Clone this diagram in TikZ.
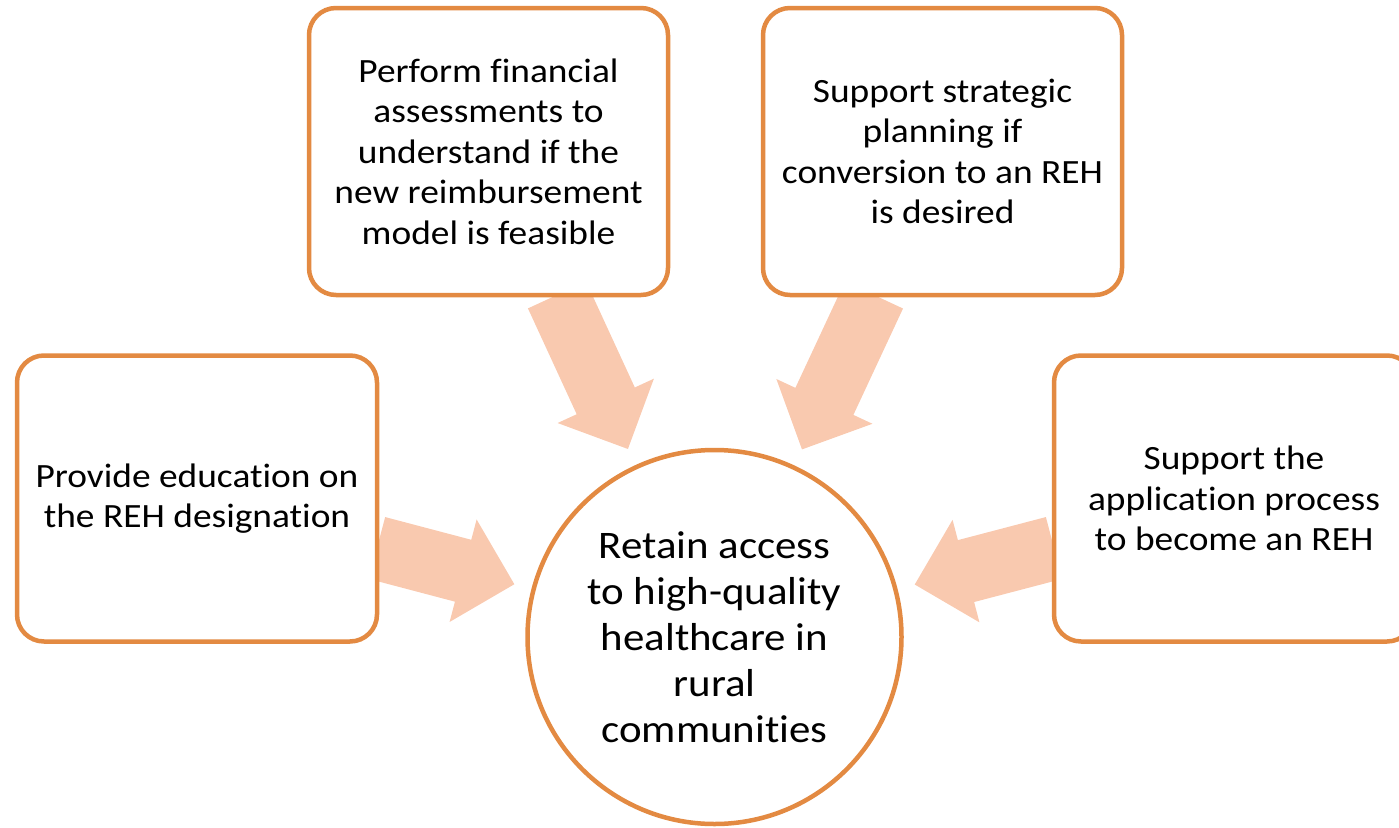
\documentclass[tikz,border=0pt]{standalone}
\usepackage{fontspec}
\setmainfont{Carlito}
\newfontfamily\widefont[FakeStretch=1.1, Ligatures=NoCommon]{Carlito}
\usetikzlibrary{calc,positioning,backgrounds}
\definecolor{edge}{HTML}{E38A42}
\definecolor{arrowfill}{HTML}{F9C9AF}
% block arrow from #1 to #2
\newcommand{\blockarrow}[2]{%
  \coordinate (hb) at ($(#2)!53pt!(#1)$);
  \fill[arrowfill] ($(#1)!32pt!90:(#2)$) -- ($(hb)!32pt!90:(#2)$) -- ($(hb)!53pt!90:(#2)$) -- (#2)
    -- ($(hb)!53pt!-90:(#2)$) -- ($(hb)!32pt!-90:(#2)$) -- ($(#1)!32pt!-90:(#2)$) -- cycle;}

\begin{document}
\begin{tikzpicture}[
    x=1pt, y=-1pt,
    box/.style={draw=edge, line width=4.5pt, rounded corners=27pt, fill=white, minimum width=359pt, minimum height=287pt,
        outer sep=0pt, inner sep=0pt, align=center, font=\widefont\fontsize{34}{40.5}\selectfont},
    hub/.style={circle, draw=edge, line width=4.5pt, fill=white, minimum size=374pt, outer sep=0pt, inner sep=0pt,
        align=center, font=\widefont\fontsize{39}{46}\selectfont}
]
    \clip (0,0) rectangle (1399,827);
    \node[hub] (goal) at (714.5,637) {Retain access\\to high-quality\\healthcare in\\rural\\communities};
    \node[box] (fin) at (488.5,151.5) {Perform financial\\assessments to\\understand if the\\new reimbursement\\model is feasible};
    \node[box, right=95pt of fin] (plan) {Support strategic\\planning if\\conversion to an REH\\is desired};
    \node[box, minimum width=360pt, minimum height=286pt] (edu) at (197,498.5) {Provide education on\\the REH designation};
    \node[box, minimum width=360pt, minimum height=286pt, right=677pt of edu] (apply) {Support the\\application process\\to become an REH};

    \coordinate (s1) at ($(edu.east)+(0,49.5)$);
    \coordinate (s2) at ($(fin.south)+(68.5,0)$);
    \coordinate (s3) at ($(plan.south)+(-68.5,0)$);
    \coordinate (s4) at ($(apply.west)+(0,49.5)$);
    \foreach \i in {1,...,4}
        \coordinate (t\i) at ($(goal.center)!207pt!(s\i)$);

    \begin{scope}[on background layer]
        \foreach \i in {1,...,4}
            \blockarrow{s\i}{t\i};
    \end{scope}
\end{tikzpicture}
\end{document}
